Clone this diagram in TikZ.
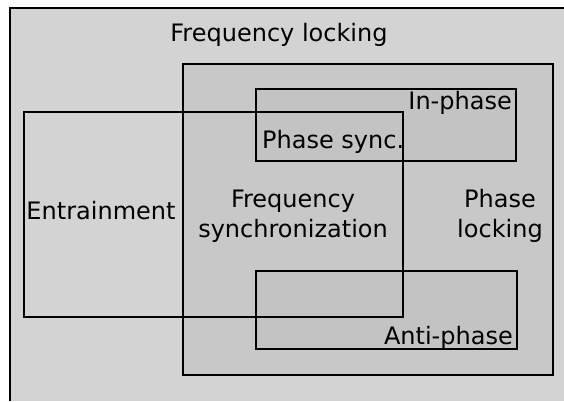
\documentclass[tikz,border=0pt]{standalone}
\usepackage{fontspec}
\setmainfont{DejaVu Sans}
\usetikzlibrary{positioning}
\definecolor{outerbg}{RGB}{211,211,211}
\definecolor{lockbg}{RGB}{200,200,200}
\definecolor{phasebg}{RGB}{195,195,195}

\begin{document}
\begin{tikzpicture}[x=1pt, y=-1pt,
    region/.style={draw, line width=1.3pt},
    lbl/.style={font=\fontsize{24}{29.5}\selectfont, align=center, inner sep=0pt}
]
\useasboundingbox (0,0) rectangle (564,401);

% nested regions (the outer one runs off the page)
\fill[outerbg] (10,8) rectangle (564,401);
\draw[region] (10,401) -- (10,8) -- (564,8);
\draw[region, fill=lockbg] (183,64) rectangle (553,375);
\draw[region, fill=phasebg] (256,89) rectangle (516,161);
\draw[region, fill=phasebg] (256,271) rectangle (517,349);
\draw[region] (24,112) rectangle (403,317);

% labels
\node[lbl, anchor=base] (freqlock) at (279,42) {Frequency locking};
\node[lbl, anchor=base east] (inphase) at (512,110) {In-phase};
\node[lbl, anchor=base west] (phasesync) at (262,148) {Phase sync.};
\node[lbl, anchor=base] (entrain) at (101,219) {Entrainment};
\node[lbl, anchor=base] (freqsync) at (293,237) {Frequency\\synchronization};
\node[lbl, anchor=base] (phaselock) at (500,237) {Phase\\locking};
\node[lbl, anchor=base east] (antiphase) at (513,344) {Anti-phase};
\end{tikzpicture}
\end{document}
